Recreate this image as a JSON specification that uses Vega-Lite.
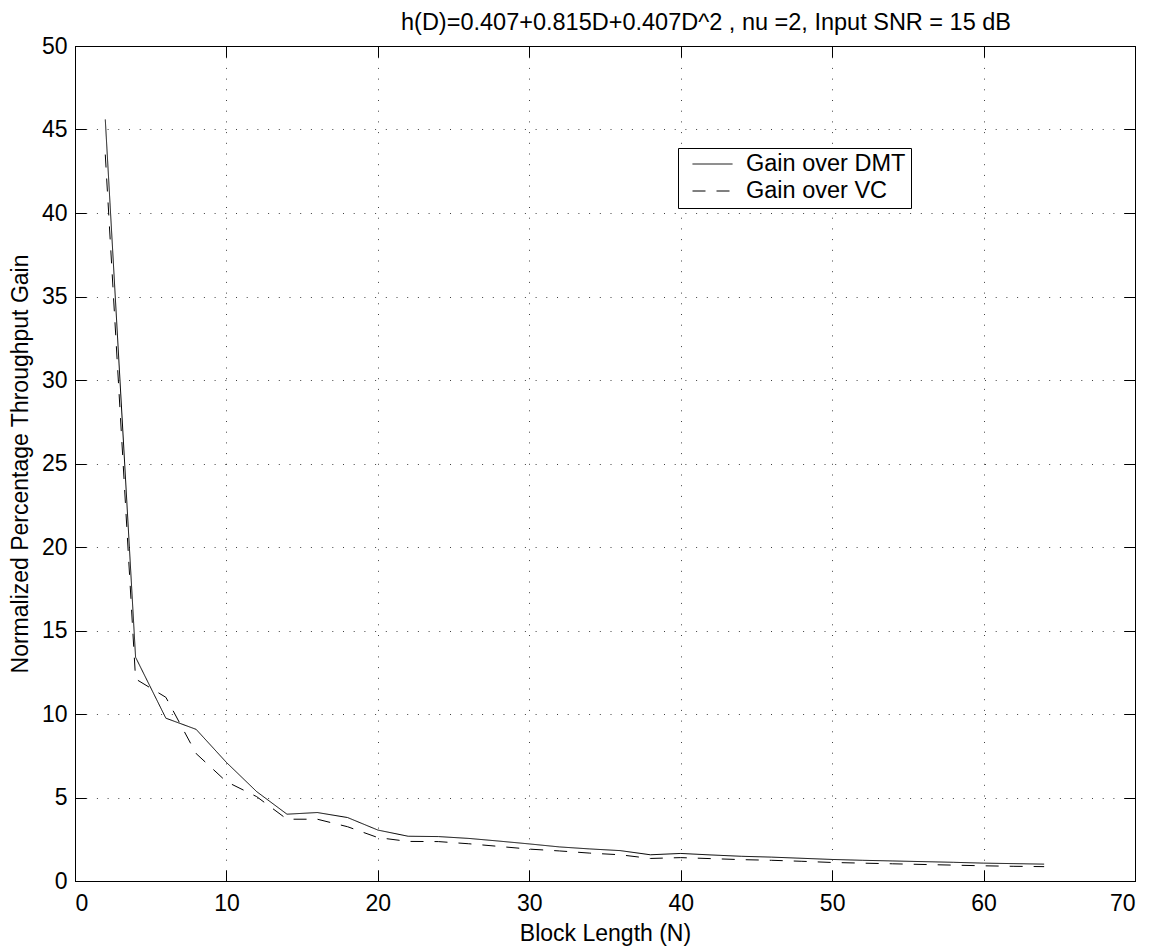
{
  "$schema": "https://vega.github.io/schema/vega-lite/v6.json",
  "width": 1060,
  "height": 835,
  "autosize": {"type": "none"},
  "padding": {"left": 75, "top": 46, "right": 23, "bottom": 69},
  "background": "white",
  "config": {
    "font": "Liberation Sans",
    "view": {"stroke": "black", "strokeWidth": 1},
    "axis": {
      "domainColor": "black",
      "tickColor": "black",
      "labelColor": "black",
      "titleColor": "black",
      "labelFont": "Liberation Sans",
      "titleFont": "Liberation Sans",
      "labelFontSize": 23,
      "titleFontSize": 23,
      "titleFontWeight": "normal",
      "gridColor": "black",
      "gridOpacity": 0.75,
      "gridDash": [1, 9.7],
      "gridWidth": 1
    }
  },
  "title": {
    "text": "h(D)=0.407+0.815D+0.407D^2 , nu =2, Input SNR = 15 dB",
    "font": "Liberation Sans",
    "fontSize": 23.5,
    "fontWeight": "normal",
    "color": "black",
    "anchor": "middle",
    "dx": 101,
    "offset": -18,
    "baseline": "alphabetic"
  },
  "data": {
    "values": [
      {"N": 2, "gain": 45.6, "series": "Gain over DMT"},
      {"N": 4, "gain": 13.4, "series": "Gain over DMT"},
      {"N": 6, "gain": 9.75, "series": "Gain over DMT"},
      {"N": 8, "gain": 9.08, "series": "Gain over DMT"},
      {"N": 10, "gain": 7.1, "series": "Gain over DMT"},
      {"N": 12, "gain": 5.35, "series": "Gain over DMT"},
      {"N": 14, "gain": 4.0, "series": "Gain over DMT"},
      {"N": 16, "gain": 4.1, "series": "Gain over DMT"},
      {"N": 18, "gain": 3.8, "series": "Gain over DMT"},
      {"N": 20, "gain": 3.05, "series": "Gain over DMT"},
      {"N": 22, "gain": 2.68, "series": "Gain over DMT"},
      {"N": 24, "gain": 2.66, "series": "Gain over DMT"},
      {"N": 26, "gain": 2.55, "series": "Gain over DMT"},
      {"N": 28, "gain": 2.39, "series": "Gain over DMT"},
      {"N": 30, "gain": 2.22, "series": "Gain over DMT"},
      {"N": 32, "gain": 2.04, "series": "Gain over DMT"},
      {"N": 34, "gain": 1.92, "series": "Gain over DMT"},
      {"N": 36, "gain": 1.82, "series": "Gain over DMT"},
      {"N": 38, "gain": 1.57, "series": "Gain over DMT"},
      {"N": 40, "gain": 1.65, "series": "Gain over DMT"},
      {"N": 42, "gain": 1.56, "series": "Gain over DMT"},
      {"N": 44, "gain": 1.48, "series": "Gain over DMT"},
      {"N": 46, "gain": 1.43, "series": "Gain over DMT"},
      {"N": 48, "gain": 1.36, "series": "Gain over DMT"},
      {"N": 50, "gain": 1.29, "series": "Gain over DMT"},
      {"N": 52, "gain": 1.24, "series": "Gain over DMT"},
      {"N": 54, "gain": 1.2, "series": "Gain over DMT"},
      {"N": 56, "gain": 1.16, "series": "Gain over DMT"},
      {"N": 58, "gain": 1.12, "series": "Gain over DMT"},
      {"N": 60, "gain": 1.07, "series": "Gain over DMT"},
      {"N": 62, "gain": 1.04, "series": "Gain over DMT"},
      {"N": 64, "gain": 1.01, "series": "Gain over DMT"},
      {"N": 2, "gain": 43.5, "series": "Gain over VC"},
      {"N": 4, "gain": 12.1, "series": "Gain over VC"},
      {"N": 6, "gain": 11.0, "series": "Gain over VC"},
      {"N": 8, "gain": 7.63, "series": "Gain over VC"},
      {"N": 10, "gain": 5.95, "series": "Gain over VC"},
      {"N": 12, "gain": 5.05, "series": "Gain over VC"},
      {"N": 14, "gain": 3.7, "series": "Gain over VC"},
      {"N": 16, "gain": 3.7, "series": "Gain over VC"},
      {"N": 18, "gain": 3.25, "series": "Gain over VC"},
      {"N": 20, "gain": 2.6, "series": "Gain over VC"},
      {"N": 22, "gain": 2.37, "series": "Gain over VC"},
      {"N": 24, "gain": 2.36, "series": "Gain over VC"},
      {"N": 26, "gain": 2.23, "series": "Gain over VC"},
      {"N": 28, "gain": 2.07, "series": "Gain over VC"},
      {"N": 30, "gain": 1.91, "series": "Gain over VC"},
      {"N": 32, "gain": 1.8, "series": "Gain over VC"},
      {"N": 34, "gain": 1.67, "series": "Gain over VC"},
      {"N": 36, "gain": 1.57, "series": "Gain over VC"},
      {"N": 38, "gain": 1.35, "series": "Gain over VC"},
      {"N": 40, "gain": 1.4, "series": "Gain over VC"},
      {"N": 42, "gain": 1.34, "series": "Gain over VC"},
      {"N": 44, "gain": 1.28, "series": "Gain over VC"},
      {"N": 46, "gain": 1.24, "series": "Gain over VC"},
      {"N": 48, "gain": 1.18, "series": "Gain over VC"},
      {"N": 50, "gain": 1.11, "series": "Gain over VC"},
      {"N": 52, "gain": 1.07, "series": "Gain over VC"},
      {"N": 54, "gain": 1.03, "series": "Gain over VC"},
      {"N": 56, "gain": 0.99, "series": "Gain over VC"},
      {"N": 58, "gain": 0.95, "series": "Gain over VC"},
      {"N": 60, "gain": 0.91, "series": "Gain over VC"},
      {"N": 62, "gain": 0.88, "series": "Gain over VC"},
      {"N": 64, "gain": 0.86, "series": "Gain over VC"}
    ]
  },
  "resolve": {"axis": {"x": "independent", "y": "independent"}},
  "layer": [
    {
      "mark": {"type": "line", "color": "black", "strokeWidth": 1},
      "encoding": {
        "x": {
          "field": "N", "type": "quantitative",
          "scale": {"domain": [0, 70], "nice": false, "zero": false},
          "axis": {
            "title": "Block Length (N)",
            "values": [0, 10, 20, 30, 40, 50, 60, 70],
            "grid": true,
            "tickSize": -11,
            "labelPadding": 22,
            "titleBaseline": "alphabetic",
            "titleY": 59
          }
        },
        "y": {
          "field": "gain", "type": "quantitative",
          "scale": {"domain": [0, 50], "nice": false, "zero": false},
          "axis": {
            "title": "Normalized Percentage Throughput Gain",
            "values": [0, 5, 10, 15, 20, 25, 30, 35, 40, 45, 50],
            "grid": true,
            "tickSize": -11,
            "labelPadding": 19,
            "titleBaseline": "alphabetic",
            "titleX": -48
          }
        },
        "strokeDash": {
          "field": "series", "type": "nominal",
          "scale": {"domain": ["Gain over DMT", "Gain over VC"], "range": [[1, 0], [13, 11]]},
          "legend": {
            "title": null,
            "orient": "none",
            "legendX": 603,
            "legendY": 102,
            "strokeColor": "black",
            "fillColor": "white",
            "padding": 5,
            "symbolType": "stroke",
            "symbolSize": 1600,
            "symbolOffset": 9,
            "symbolStrokeWidth": 1,
            "symbolStrokeColor": "black",
            "labelFont": "Liberation Sans",
            "labelFontSize": 23.5,
            "labelColor": "black",
            "labelOffset": 13,
            "rowPadding": 3,
            "clipHeight": 22,
            "labelLimit": 400
          }
        }
      }
    },
    {
      "mark": {"type": "line", "strokeOpacity": 0},
      "encoding": {
        "x": {
          "field": "N", "type": "quantitative",
          "axis": {"orient": "top", "title": null, "labels": false, "grid": false, "domain": false, "tickSize": -11, "values": [0, 10, 20, 30, 40, 50, 60, 70]}
        },
        "y": {
          "field": "gain", "type": "quantitative",
          "axis": {"orient": "right", "title": null, "labels": false, "grid": false, "domain": false, "tickSize": -11, "values": [0, 5, 10, 15, 20, 25, 30, 35, 40, 45, 50]}
        },
        "detail": {"field": "series", "type": "nominal"}
      }
    }
  ]
}
